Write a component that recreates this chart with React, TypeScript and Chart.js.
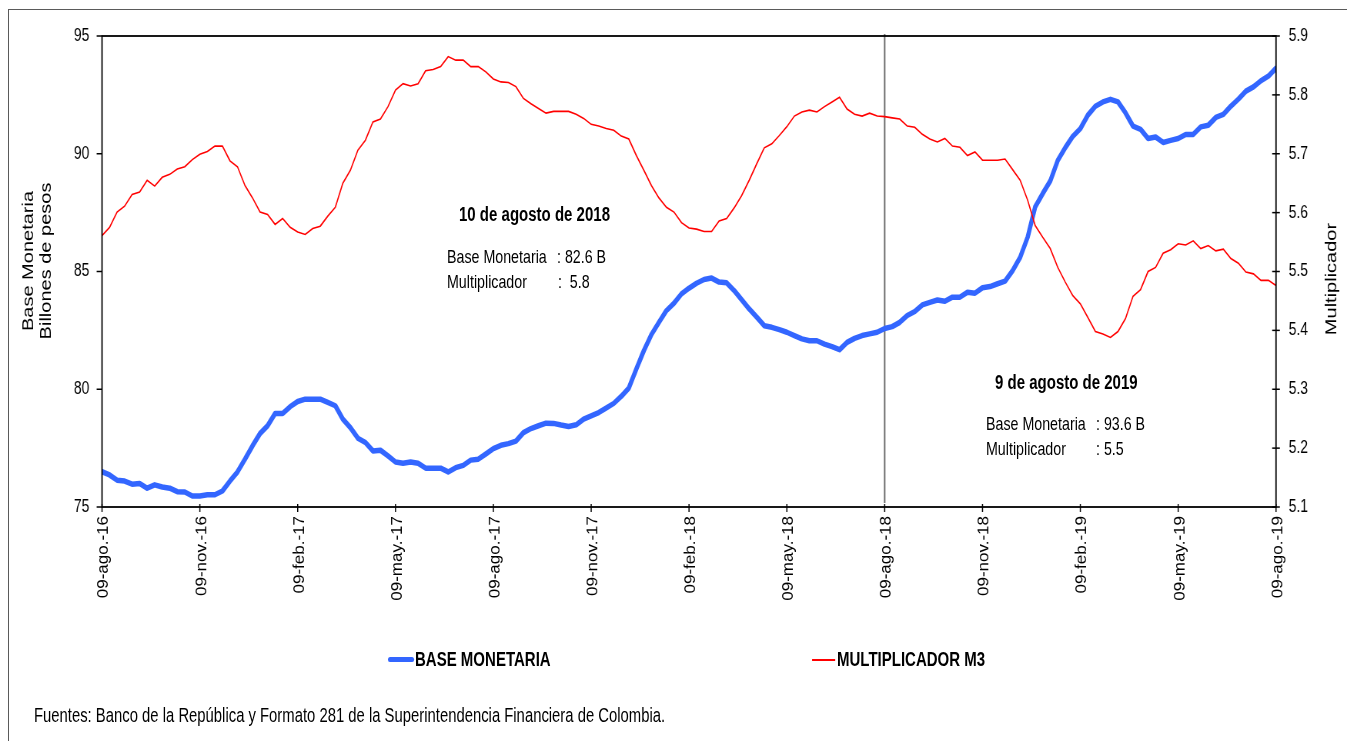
import React, { useEffect, useRef } from "react";
import { Chart, registerables } from "chart.js";

Chart.register(...registerables);

// ---------- data ----------
const tickIndex = [0, 13, 26, 39, 52, 65, 78, 91, 104, 117, 130, 143, 156];
const tickLabels = [
  "09-ago.-16", "09-nov.-16", "09-feb.-17", "09-may.-17", "09-ago.-17", "09-nov.-17",
  "09-feb.-18", "09-may.-18", "09-ago.-18", "09-nov.-18", "09-feb.-19", "09-may.-19", "09-ago.-19",
];
const markerIndex = 104; // 10 de agosto de 2018

// Base Monetaria (billones de pesos), weekly
const baseMonetaria = [
  76.5, 76.36, 76.14, 76.1, 75.97, 76.0, 75.8, 75.94, 75.85, 75.8,
  75.65, 75.64, 75.47, 75.47, 75.52, 75.52, 75.68, 76.1, 76.49, 77.03,
  77.6, 78.12, 78.45, 78.97, 78.97, 79.26, 79.48, 79.58, 79.58, 79.58,
  79.44, 79.3, 78.73, 78.37, 77.92, 77.74, 77.38, 77.41, 77.17, 76.91,
  76.86, 76.91, 76.86, 76.65, 76.65, 76.65, 76.49, 76.67, 76.77, 76.99,
  77.03, 77.25, 77.48, 77.62, 77.69, 77.8, 78.16, 78.33, 78.45, 78.56,
  78.55, 78.48, 78.42, 78.49, 78.73, 78.87, 79.01, 79.2, 79.4, 79.7,
  80.05, 80.86, 81.64, 82.32, 82.84, 83.34, 83.65, 84.05, 84.29, 84.5,
  84.66, 84.72, 84.55, 84.52, 84.19, 83.8, 83.41, 83.06, 82.7, 82.63,
  82.53, 82.42, 82.28, 82.14, 82.06, 82.06, 81.92, 81.81, 81.68, 81.99,
  82.16, 82.28, 82.35, 82.42, 82.58, 82.66, 82.84, 83.13, 83.3, 83.58,
  83.69, 83.79, 83.74, 83.91, 83.91, 84.12, 84.08, 84.31, 84.36, 84.48,
  84.59, 85.04, 85.6, 86.46, 87.74, 88.31, 88.84, 89.72, 90.26, 90.74,
  91.07, 91.64, 92.02, 92.2, 92.31, 92.2, 91.74, 91.17, 91.04, 90.65,
  90.71, 90.48, 90.57, 90.65, 90.82, 90.82, 91.14, 91.21, 91.54, 91.67,
  92.02, 92.32, 92.66, 92.84, 93.1, 93.3, 93.63,
];

// Multiplicador M3, weekly
const multiplicador = [
  5.561, 5.575, 5.601, 5.611, 5.631, 5.635, 5.655, 5.645, 5.66, 5.665,
  5.674, 5.678, 5.69, 5.699, 5.704, 5.713, 5.713, 5.688, 5.678, 5.646,
  5.625, 5.601, 5.597, 5.58, 5.59, 5.575, 5.567, 5.563, 5.573, 5.577,
  5.594, 5.609, 5.65, 5.672, 5.706, 5.723, 5.754, 5.759, 5.78, 5.808,
  5.819, 5.815, 5.819, 5.841, 5.843, 5.848, 5.865, 5.859, 5.859, 5.848,
  5.848, 5.839, 5.827, 5.822, 5.821, 5.814, 5.794, 5.785, 5.777, 5.769,
  5.772, 5.772, 5.772, 5.767, 5.76, 5.75, 5.747, 5.743, 5.74, 5.73,
  5.725, 5.697, 5.672, 5.646, 5.625, 5.609, 5.601, 5.583, 5.574, 5.572,
  5.568, 5.568, 5.586, 5.59, 5.608, 5.629, 5.655, 5.683, 5.71, 5.717,
  5.731, 5.746, 5.764, 5.771, 5.774, 5.771, 5.78, 5.788, 5.796, 5.776,
  5.767, 5.764, 5.769, 5.764, 5.763, 5.761, 5.759, 5.747, 5.745, 5.733,
  5.725, 5.72, 5.726, 5.713, 5.711, 5.697, 5.703, 5.689, 5.689, 5.689,
  5.691, 5.673, 5.655, 5.621, 5.578, 5.558, 5.539, 5.507, 5.482, 5.459,
  5.445, 5.422, 5.398, 5.394, 5.388, 5.398, 5.42, 5.458, 5.469, 5.5,
  5.507, 5.531, 5.537, 5.547, 5.545, 5.552, 5.539, 5.544, 5.535, 5.538,
  5.522, 5.514, 5.499, 5.496, 5.485, 5.485, 5.476,
];

// ---------- layout ----------
const OUT_W = 1347;
const OUT_H = 741;
const IN_W = 1750; // drawn wide, then squeezed horizontally like the reference
const SX = OUT_W / IN_W;
const ix = (x: number) => x / SX;

const PLOT_LEFT = ix(102);
const PLOT_RIGHT = ix(1276);
const PLOT_TOP = 36;
const PLOT_BOTTOM = 507;
const X_AXIS_H = 130;

const FONT = "'Liberation Sans', Arial, Helvetica, sans-serif";

const decorPlugin = {
  id: "decor",
  beforeDatasetsDraw(chart: any) {
    const { ctx, chartArea: a, scales } = chart;
    const mx = scales.x.getPixelForValue(markerIndex);
    ctx.save();
    ctx.strokeStyle = "#6e6e6e";
    ctx.lineWidth = 2;
    ctx.beginPath();
    ctx.moveTo(mx, a.top - 2);
    ctx.lineTo(mx, a.bottom - 4);
    ctx.stroke();
    ctx.restore();
  },
  afterDatasetsDraw(chart: any) {
    const { ctx, chartArea: a, scales } = chart;
    ctx.save();
    ctx.strokeStyle = "#000";
    ctx.lineWidth = 1.8;
    ctx.strokeRect(a.left, a.top, a.right - a.left, a.bottom - a.top);
    const seg = (x1: number, y1: number, x2: number, y2: number) => {
      ctx.beginPath();
      ctx.moveTo(x1, y1);
      ctx.lineTo(x2, y2);
      ctx.stroke();
    };
    ctx.lineWidth = 1.5;
    scales.y.ticks.forEach((t: any) => {
      const py = scales.y.getPixelForValue(t.value);
      seg(a.left - 7, py, a.left, py);
    });
    scales.y1.ticks.forEach((t: any) => {
      const py = scales.y1.getPixelForValue(t.value);
      seg(a.right - 5, py, a.right + 5, py);
    });
    scales.x.ticks.forEach((t: any) => {
      const px = scales.x.getPixelForValue(t.value);
      seg(px, a.bottom - 3, px, a.bottom + 5);
    });

    // x tick labels, rotated, read bottom-to-top
    ctx.fillStyle = "#000";
    ctx.font = `17px ${FONT}`;
    ctx.textAlign = "right";
    ctx.textBaseline = "middle";
    scales.x.ticks.forEach((t: any) => {
      const k = tickIndex.indexOf(Number(t.value));
      if (k < 0) return;
      const px = scales.x.getPixelForValue(t.value);
      ctx.save();
      ctx.translate(px + 2.5, a.bottom + 9);
      ctx.scale(1.15, 1);
      ctx.rotate(-Math.PI / 2);
      ctx.fillText(tickLabels[k], 0, 0);
      ctx.restore();
    });

    // axis titles (rotated)
    ctx.font = `20px ${FONT}`;
    ctx.textAlign = "center";
    ctx.textBaseline = "middle";
    const vtext = (text: string, x: number, y: number) => {
      ctx.save();
      ctx.translate(x, y);
      ctx.rotate(-Math.PI / 2);
      ctx.fillText(text, 0, 0);
      ctx.restore();
    };
    vtext("Base Monetaria", ix(29), 261);
    vtext("Billones de pesos", ix(46.5), 261);
    vtext("Multiplicador", ix(1332), 279);
    ctx.restore();
  },
};

function Txt(props: { left: number; cy: number; size: number; bold?: boolean; children: React.ReactNode }) {
  const { left, cy, size, bold, children } = props;
  return (
    <div
      style={{
        position: "absolute",
        left: ix(left),
        top: cy - size * 0.65,
        fontSize: size,
        lineHeight: `${size * 1.3}px`,
        fontWeight: bold ? 700 : 400,
        whiteSpace: "pre",
        color: "#000",
        fontFamily: FONT,
      }}
    >
      {children}
    </div>
  );
}

export default function App() {
  const ref = useRef<HTMLCanvasElement>(null);

  useEffect(() => {
    const canvas = ref.current;
    if (!canvas) return;
    const chart = new Chart(canvas, {
      type: "line",
      data: {
        datasets: [
          {
            label: "MULTIPLICADOR M3",
            data: multiplicador.map((v, i) => ({ x: i, y: v })),
            yAxisID: "y1",
            borderColor: "#ff0000",
            borderWidth: 1.6,
            pointRadius: 0,
            tension: 0,
            fill: false,
          },
          {
            label: "BASE MONETARIA",
            data: baseMonetaria.map((v, i) => ({ x: i, y: v })),
            yAxisID: "y",
            borderColor: "#3366ff",
            borderWidth: 5.5,
            pointRadius: 0,
            tension: 0,
            fill: false,
            borderJoinStyle: "round",
            borderCapStyle: "round",
          },
        ],
      },
      options: {
        responsive: false,
        animation: false,
        events: [],
        layout: {
          padding: { top: PLOT_TOP, left: 0, right: 0, bottom: OUT_H - PLOT_BOTTOM - X_AXIS_H },
        },
        plugins: { legend: { display: false }, tooltip: { enabled: false }, title: { display: false } },
        scales: {
          x: {
            type: "linear",
            min: 0,
            max: 156,
            grid: { display: false, drawTicks: false },
            border: { display: false },
            afterBuildTicks: (s: any) => {
              s.ticks = tickIndex.map((v) => ({ value: v }));
            },
            afterFit: (s: any) => {
              s.height = X_AXIS_H;
            },
            ticks: { display: false, autoSkip: false },
          },
          y: {
            type: "linear",
            position: "left",
            min: 75,
            max: 95,
            grid: { display: false, drawTicks: false },
            border: { display: false },
            afterFit: (s: any) => {
              s.width = PLOT_LEFT;
            },
            ticks: {
              stepSize: 5,
              padding: 16.5,
              color: "#000",
              font: { family: FONT, size: 18 },
            },
          },
          y1: {
            type: "linear",
            position: "right",
            min: 5.1,
            max: 5.9,
            grid: { display: false, drawTicks: false },
            border: { display: false },
            afterFit: (s: any) => {
              s.width = IN_W - PLOT_RIGHT;
            },
            ticks: {
              stepSize: 0.1,
              padding: 16.5,
              color: "#000",
              font: { family: FONT, size: 18 },
              callback: (v: any) => Number(v).toFixed(1),
            },
          },
        },
      },
      plugins: [decorPlugin],
    } as any);
    return () => chart.destroy();
  }, []);

  return (
    <div
      style={{
        position: "fixed",
        left: 0,
        top: 0,
        width: OUT_W,
        height: OUT_H,
        overflow: "hidden",
        background: "#fff",
      }}
    >
      <div
        style={{
          position: "absolute",
          left: 0,
          top: 0,
          width: IN_W,
          height: OUT_H,
          transform: `scaleX(${SX})`,
          transformOrigin: "0 0",
        }}
      >
        <canvas
          ref={ref}
          width={IN_W}
          height={OUT_H}
          style={{ position: "absolute", left: 0, top: 0, width: IN_W, height: OUT_H }}
        />

        {/* annotation 10 agosto 2018 */}
        <Txt left={459} cy={215} size={19.5} bold>10 de agosto de 2018</Txt>
        <Txt left={447} cy={257} size={18.5}>Base Monetaria</Txt>
        <Txt left={557} cy={257} size={18.5}>: 82.6 B</Txt>
        <Txt left={447} cy={282} size={18.5}>Multiplicador</Txt>
        <Txt left={558} cy={282} size={18.5}>{":  5.8"}</Txt>

        {/* annotation 9 agosto 2019 */}
        <Txt left={995} cy={383} size={19.5} bold>9 de agosto de 2019</Txt>
        <Txt left={986} cy={424} size={18.5}>Base Monetaria</Txt>
        <Txt left={1096} cy={424} size={18.5}>: 93.6 B</Txt>
        <Txt left={986} cy={449} size={18.5}>Multiplicador</Txt>
        <Txt left={1096} cy={449} size={18.5}>: 5.5</Txt>

        {/* legend */}
        <div
          style={{
            position: "absolute",
            left: ix(388),
            top: 659.5 - 2.75,
            width: ix(414) - ix(388),
            height: 5.5,
            background: "#3366ff",
            borderRadius: 3,
          }}
        />
        <Txt left={415} cy={660} size={19.5} bold>BASE MONETARIA</Txt>
        <div
          style={{
            position: "absolute",
            left: ix(812),
            top: 659.5 - 1,
            width: ix(835) - ix(812),
            height: 2,
            background: "#ff0000",
          }}
        />
        <Txt left={837} cy={660} size={19.5} bold>MULTIPLICADOR M3</Txt>

        {/* source */}
        <Txt left={34} cy={716} size={19.3}>
          Fuentes: Banco de la República y Formato 281 de la Superintendencia Financiera de Colombia.
        </Txt>
      </div>

      {/* outer frame */}
      <div
        style={{
          position: "absolute",
          left: 8,
          top: 9,
          width: 2000,
          height: 2000,
          borderLeft: "1.3px solid #5a5a5a",
          borderTop: "1.3px solid #5a5a5a",
        }}
      />
    </div>
  );
}
